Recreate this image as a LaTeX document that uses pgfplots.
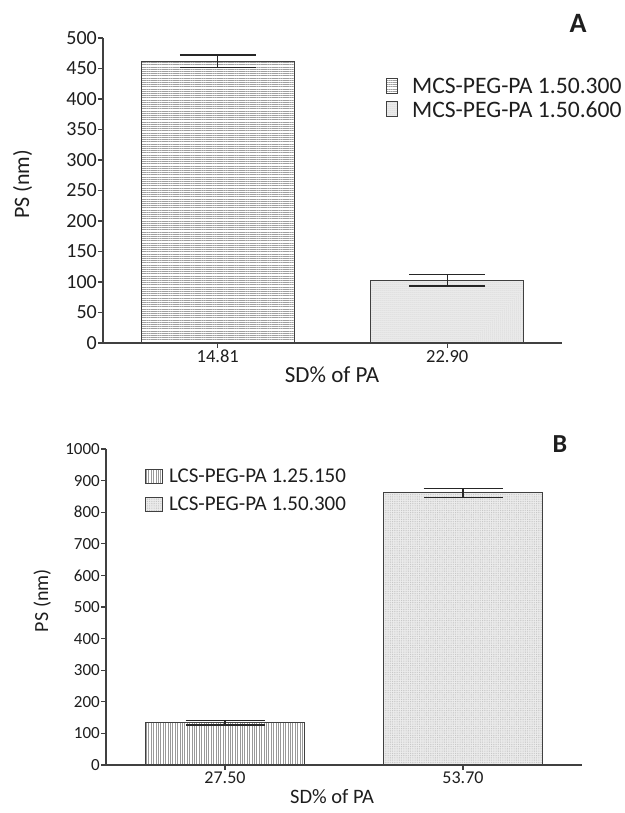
\documentclass[border=0pt]{standalone}
\usepackage{fontspec}
\setmainfont{Carlito}
\usepackage{pgfplots}
\pgfplotsset{compat=1.18}
\usetikzlibrary{patterns,patterns.meta}
\definecolor{axc}{HTML}{404040}
\definecolor{txc}{HTML}{1E1E1E}
\pgfplotsset{
  myax/.style={
    scale only axis,
    axis lines=left,
    axis line style={axc, line width=1.3pt, -},
    xmin=-0.5, xmax=1.5, ymin=0,
    xtick={0,1},
    tick align=outside,
    major tick length=5pt,
    tick style={axc, line width=1.1pt},
    ybar, bar width=0.665, bar shift=0pt,
    /pgf/number format/assume math mode=true,
    /pgf/number format/1000 sep={},
    legend cell align=left,
    clip=false,
    every tick label/.append style={txc},
    error bars/error bar style={line width=1.3pt, black!85},
    error bars/error mark options={rotate=90, line width=1.3pt, black!85, mark size=38pt},
  },
  sqlegend/.style={legend image code/.code={\draw[##1, line width=0.8pt, draw=axc] (0pt,-7pt) rectangle (11pt,8pt);}},
  sqlegendB/.style={legend image code/.code={\draw[##1, line width=0.8pt, draw=axc] (0pt,-7pt) rectangle (17pt,7pt);}},
}
\begin{document}
\begin{tikzpicture}[x=1pt,y=1pt]
\useasboundingbox (0,0) rectangle (624,813);
% Panel A
\begin{axis}[myax,
  at={(103pt,470pt)}, anchor=south west,
  width=459pt, height=305pt,
  ymax=500, ytick={0,50,...,500},
  xticklabels={14.81,22.90},
  y tick label style={font=\fontsize{20}{20}\selectfont, inner sep=1pt},
  x tick label style={font=\fontsize{18.5}{18.5}\selectfont, inner sep=2pt},
  xlabel={SD\% of PA}, ylabel={PS (nm)},
  xlabel style={at={(axis description cs:0.499,-0.105)}, anchor=center, font=\fontsize{23}{23}\selectfont, txc},
  ylabel style={at={(axis description cs:-0.175,0.52)}, anchor=center, font=\fontsize{22}{22}\selectfont, txc},
  legend style={at={(axis description cs:0.617,0.875)}, anchor=north west, draw=none, fill=none, inner sep=0pt,
    font=\fontsize{23.6}{23.6}\selectfont, row sep=2pt, text=txc,
    /tikz/column sep=12pt},
]
\addplot[sqlegend, draw=axc, line width=1pt, fill=white,
  postaction={pattern={Lines[angle=0,distance=2.2pt,line width=1pt]}, pattern color=gray!75},
  error bars/.cd, y dir=both, y explicit]
  coordinates {(0,462) +- (0,10)};
\addlegendentry{MCS-PEG-PA 1.50.300}
\addplot[sqlegend, draw=axc, line width=1pt, fill=gray!12,
  postaction={pattern={Dots[distance=2pt,radius=0.5pt]}, pattern color=gray!60},
  error bars/.cd, y dir=both, y explicit]
  coordinates {(1,103) +- (0,9.5)};
\addlegendentry{MCS-PEG-PA 1.50.600}
\end{axis}
\node[font=\fontsize{28}{28}\selectfont\bfseries, txc] at (578,790) {A};
% Panel B
\begin{axis}[myax,
  at={(106pt,48pt)}, anchor=south west,
  width=476pt, height=316pt,
  ymax=1000, ytick={0,100,...,1000},
  xticklabels={27.50,53.70},
  y tick label style={font=\fontsize{17}{17}\selectfont, inner sep=1pt},
  x tick label style={font=\fontsize{18}{18}\selectfont, inner sep=2pt},
  xlabel={SD\% of PA}, ylabel={PS (nm)},
  xlabel style={at={(axis description cs:0.475,-0.101)}, anchor=center, font=\fontsize{20.5}{20.5}\selectfont, txc},
  ylabel style={at={(axis description cs:-0.134,0.52)}, anchor=center, font=\fontsize{20}{20}\selectfont, txc},
  legend style={at={(axis description cs:0.082,0.945)}, anchor=north west, draw=none, fill=none, inner sep=0pt,
    font=\fontsize{21}{21}\selectfont, row sep=9pt, text=txc,
    /tikz/column sep=4pt},
  error bars/error mark options={rotate=90, line width=1.3pt, black!85, mark size=39.5pt},
]
\addplot[sqlegendB, draw=axc, line width=1pt, fill=white,
  postaction={pattern={Lines[angle=90,distance=2.4pt,line width=0.9pt]}, pattern color=gray!80},
  error bars/.cd, y dir=both, y explicit]
  coordinates {(0,134) +- (0,7)};
\addlegendentry{LCS-PEG-PA 1.25.150}
\addplot[sqlegendB, draw=axc, line width=1pt, fill=gray!15,
  postaction={pattern={Dots[distance=1.8pt,radius=0.45pt]}, pattern color=gray!55},
  error bars/.cd, y dir=both, y explicit]
  coordinates {(1,861) +- (0,15)};
\addlegendentry{LCS-PEG-PA 1.50.300}
\end{axis}
\node[font=\fontsize{26}{26}\selectfont\bfseries, txc] at (560,369) {B};
\end{tikzpicture}
\end{document}
